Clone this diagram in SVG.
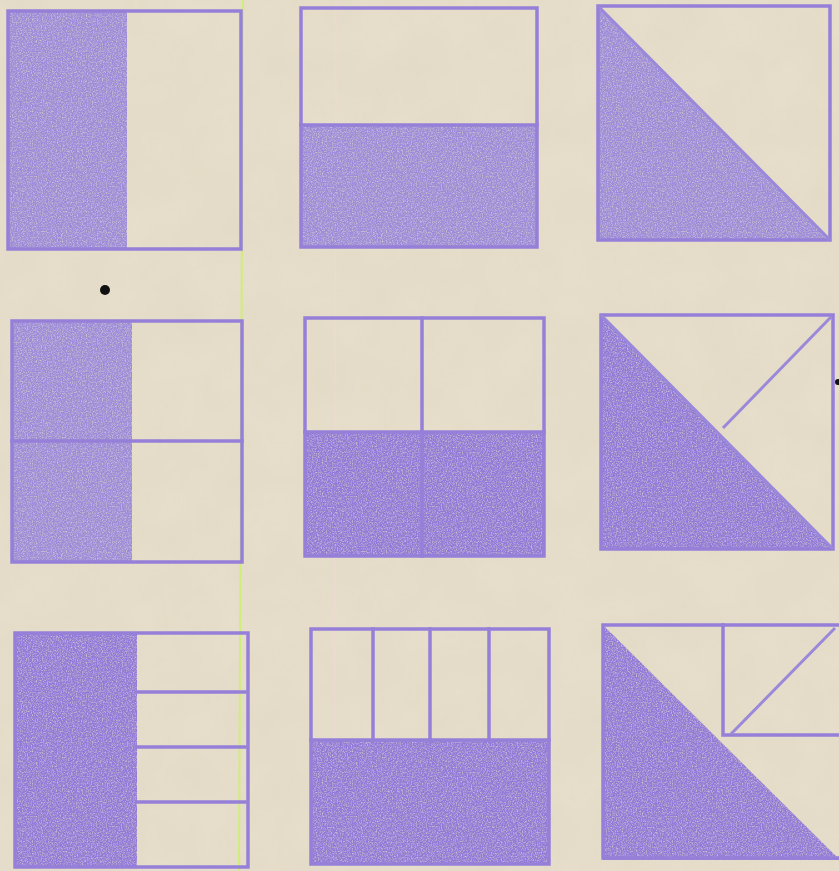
<svg xmlns="http://www.w3.org/2000/svg" width="839" height="871" viewBox="0 0 839 871">
<defs>
<style>
.fill{fill:#9c8ada;filter:url(#grain)}
.fill2{fill:#9079d9;filter:url(#grain)}
.ln{fill:none;stroke:#957fd9;stroke-width:3.5;stroke-linecap:square;stroke-linejoin:miter}
.thin{fill:none;stroke:#9a88da;stroke-width:3}
</style>
<filter id="grain" x="0" y="0" width="100%" height="100%">
<feTurbulence type="fractalNoise" baseFrequency="0.8" numOctaves="2" seed="4" result="n"/>
<feColorMatrix in="n" type="matrix" values="0 0 0 0 0 0 0 0 0 0 0 0 0 0 0 0 0 0 -1.6 1.65" result="a"/>
<feComposite in="SourceGraphic" in2="a" operator="in"/>
</filter>
<filter id="paper" x="0" y="0" width="100%" height="100%">
<feTurbulence type="fractalNoise" baseFrequency="0.02" numOctaves="3" seed="7" result="n"/>
<feColorMatrix in="n" type="matrix" values="0 0 0 0 0.5 0 0 0 0 0.45 0 0 0 0 0.3 0 0 0 0.12 0" result="c"/>
<feComposite in="c" in2="SourceGraphic" operator="in" result="c2"/>
<feMerge><feMergeNode in="SourceGraphic"/><feMergeNode in="c2"/></feMerge>
</filter>
</defs>
<rect id="paper-bg" x="0" y="0" width="839" height="871" fill="#e7dfcc" filter="url(#paper)"/>
<line x1="336" y1="0" x2="334" y2="871" stroke="#f2d9d4" stroke-width="1.2" opacity="0.7"/>
<line x1="243" y1="0" x2="239" y2="871" stroke="#cfee78" stroke-width="2"/>

<g id="panel-a1">
<rect class="fill" x="8" y="11" width="119" height="238"/>
<rect class="ln" x="8" y="11" width="233" height="238"/>
</g>
<g id="panel-a2">
<rect class="fill" x="301" y="125" width="236" height="122"/>
<rect class="ln" x="301" y="8" width="236" height="239"/>
<line class="ln" x1="301" y1="125" x2="537" y2="125"/>
</g>
<g id="panel-a3">
<polygon class="fill" points="598,6 830,240 598,240"/>
<rect class="ln" x="598" y="6" width="232" height="234"/>
<line class="thin" x1="598" y1="6" x2="830" y2="240"/>
</g>

<g id="panel-b1">
<rect class="fill" x="12" y="321" width="120" height="241"/>
<rect class="ln" x="12" y="321" width="230" height="241"/>
<line class="ln" x1="12" y1="441" x2="242" y2="441"/>
</g>
<g id="panel-b2">
<rect class="fill2" x="305" y="432" width="239" height="124"/>
<rect class="ln" x="305" y="318" width="239" height="238"/>
<line class="ln" x1="305" y1="432" x2="544" y2="432"/>
<line class="ln" x1="422" y1="318" x2="422" y2="556"/>
</g>
<g id="panel-b3">
<polygon class="fill2" points="601,315 833,549 601,549"/>
<rect class="ln" x="601" y="315" width="232" height="234"/>
<line class="thin" x1="601" y1="315" x2="833" y2="549"/>
<line class="thin" x1="831" y1="317" x2="723" y2="428"/>
</g>

<g id="panel-c1">
<rect class="fill2" x="15" y="633" width="122" height="234"/>
<rect class="ln" x="15" y="633" width="233" height="234"/>
<line class="ln" x1="137" y1="692" x2="245" y2="692"/>
<line class="ln" x1="137" y1="747" x2="245" y2="747"/>
<line class="ln" x1="137" y1="802" x2="245" y2="802"/>
</g>
<g id="panel-c2">
<rect class="fill2" x="311" y="740" width="238" height="124"/>
<rect class="ln" x="311" y="629" width="238" height="235"/>
<line class="ln" x1="311" y1="740" x2="549" y2="740"/>
<line class="ln" x1="373" y1="629" x2="373" y2="740"/>
<line class="ln" x1="430" y1="629" x2="430" y2="740"/>
<line class="ln" x1="489" y1="629" x2="489" y2="740"/>
</g>
<g id="panel-c3">
<polygon class="fill2" points="603,625 840,860 603,860"/>
<polyline class="ln" points="840,625 603,625 603,858 840,858"/>
<line class="ln" x1="723" y1="625" x2="723" y2="735"/>
<line class="ln" x1="726" y1="735" x2="839" y2="735"/>
<line class="thin" x1="835" y1="628" x2="731" y2="734"/>
</g>

<circle cx="105" cy="290" r="5" fill="#111"/>
<circle cx="838" cy="382" r="3" fill="#111"/>
</svg>
